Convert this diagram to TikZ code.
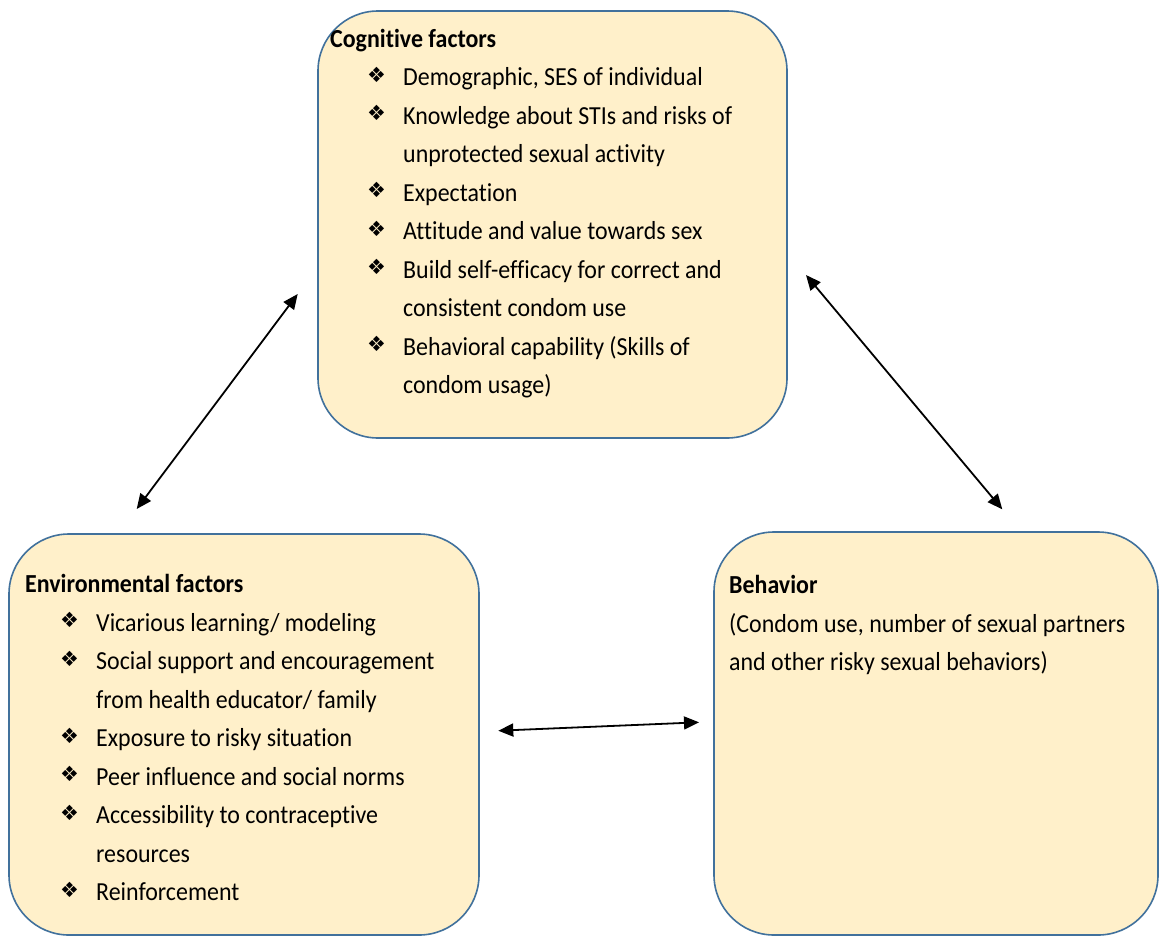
\documentclass[tikz,border=0pt]{standalone}
\usepackage{fontspec}
\setmainfont{Carlito}[Ligatures=NoCommon, FakeStretch=0.92]
\newfontfamily\symfont{DejaVu Sans}
\usetikzlibrary{arrows.meta}
\definecolor{boxfill}{HTML}{FFF0CA}
\definecolor{boxline}{HTML}{41719C}
\tikzset{
  panel/.style={draw=boxline, fill=boxfill, line width=1.6pt, rounded corners=60pt, inner sep=0pt},
  txt/.style={anchor=base west, inner sep=0pt, font=\fontsize{26}{30}\selectfont},
  ttl/.style={txt, font=\fontsize{26}{30}\selectfont\bfseries},
  bul/.style={anchor=base west, inner sep=0pt, font=\symfont\fontsize{21}{22}\selectfont},
  link/.style={line width=1.8pt, {Triangle[length=15pt,width=13pt]}-{Triangle[length=15pt,width=13pt]}}
}
\begin{document}
\begin{tikzpicture}[x=1pt,y=-1pt]
\useasboundingbox (0,0) rectangle (1159,937);
% boxes
\node[panel, minimum width=469pt, minimum height=427pt] (cog) at (552.5,224.5) {};
\node[panel, minimum width=470pt, minimum height=401pt] (env) at (244,734.5) {};
\node[panel, minimum width=444pt, minimum height=403pt] (beh) at (936,733.5) {};
% cognitive
\node[ttl] (c0) at (330,47) {Cognitive factors};
\node[bul] (cb1) at (367,82) {❖};
\node[txt] (c1) at (403,85.5) {Demographic, SES of individual};
\node[bul] (cb2) at (367,120.5) {❖};
\node[txt] (c2) at (403,124) {Knowledge about STIs and risks of};
\node[txt] (c3) at (403,162.5) {unprotected sexual activity};
\node[bul] (cb4) at (367,197.5) {❖};
\node[txt] (c4) at (403,201) {Expectation};
\node[bul] (cb5) at (367,236) {❖};
\node[txt] (c5) at (403,239.5) {Attitude and value towards sex};
\node[bul] (cb6) at (367,274.5) {❖};
\node[txt] (c6) at (403,278) {Build self-efficacy for correct and};
\node[txt] (c7) at (403,316.5) {consistent condom use};
\node[bul] (cb8) at (367,351.5) {❖};
\node[txt] (c8) at (403,355) {Behavioral capability (Skills of};
\node[txt] (c9) at (403,393.5) {condom usage)};
% environmental
\node[ttl] (e0) at (25,592) {Environmental factors};
\node[bul] (eb1) at (60,627.5) {❖};
\node[txt] (e1) at (96,631) {Vicarious learning/ modeling};
\node[bul] (eb2) at (60,666) {❖};
\node[txt] (e2) at (96,669.5) {Social support and encouragement};
\node[txt] (e3) at (96,708) {from health educator/ family};
\node[bul] (eb4) at (60,743) {❖};
\node[txt] (e4) at (96,746.5) {Exposure to risky situation};
\node[bul] (eb5) at (60,781.5) {❖};
\node[txt] (e5) at (96,785) {Peer influence and social norms};
\node[bul] (eb6) at (60,820) {❖};
\node[txt] (e6) at (96,823.5) {Accessibility to contraceptive};
\node[txt] (e7) at (96,862) {resources};
\node[bul] (eb8) at (60,897) {❖};
\node[txt] (e8) at (96,900.5) {Reinforcement};
% behavior
\node[ttl] (b0) at (729,593) {Behavior};
\node[txt] (b1) at (729,632) {(Condom use, number of sexual partners};
\node[txt] (b2) at (729,670.5) {and other risky sexual behaviors)};
% arrows
\coordinate (a1s) at (136.7,509);
\coordinate (a1e) at (297.7,294);
\coordinate (a2s) at (806,275);
\coordinate (a2e) at (1002.3,509.3);
\coordinate (a3s) at (498.3,730.7);
\coordinate (a3e) at (699,722.3);
\draw[link] (a1s) -- (a1e);
\draw[link] (a2s) -- (a2e);
\draw[link] (a3s) -- (a3e);
\end{tikzpicture}
\end{document}
